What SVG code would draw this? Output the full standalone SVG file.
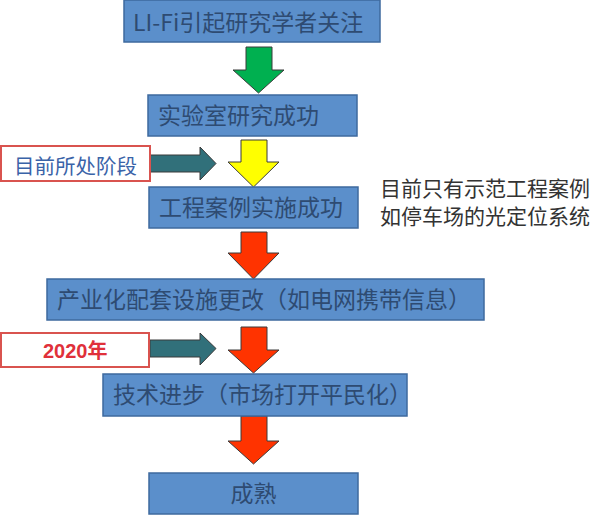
<svg xmlns="http://www.w3.org/2000/svg" width="601" height="516" viewBox="0 0 601 516">
<style>
.box{fill:#5B8FCB;stroke:#3E6A9E;stroke-width:1.5}
.bt{font-family:"Noto Sans CJK SC","Liberation Sans",sans-serif;font-size:23px;fill:#2E4B72}
.lab{fill:#FFFFFF;stroke:#D9534F;stroke-width:2}
.arr{stroke:#3A3A3A;stroke-width:1}
.note{font-family:"Liberation Serif","Noto Sans CJK SC",serif;font-size:21px;fill:#333333}
</style>
<rect width="601" height="516" fill="#FFFFFF"/>
<g id="connectors">
<polygon class="arr" fill="#00B050" points="246,47 272,47 272,70 284,70 258.5,93 233,70 246,70"/>
<polygon class="arr" fill="#FFFF00" points="241,140 267,140 267,162 279,162 253.5,187 228,162 241,162"/>
<polygon class="arr" fill="#FF3300" points="241,232 267,232 267,253 279,253 253.5,279 228,253 241,253"/>
<polygon class="arr" fill="#FF3300" points="241,327 267,327 267,350 279,350 253.5,373 228,350 241,350"/>
<polygon class="arr" fill="#FF3300" points="241,416 267,416 267,441 279,441 253.5,464 228,441 241,441"/>
<polygon class="arr" fill="#31707A" points="150,155 200,155 200,147 216,163.5 200,180 200,172 150,172"/>
<polygon class="arr" fill="#31707A" points="150,340 200,340 200,333 216,348.5 200,365 200,357 150,357"/>
</g>
<g id="n1"><rect class="box" x="124" y="0" width="256" height="42"/><text class="bt" x="133" y="31">LI-Fi引起研究学者关注</text></g>
<g id="n2"><rect class="box" x="148" y="95" width="209" height="41"/><text class="bt" x="158" y="124">实验室研究成功</text></g>
<g id="n3"><rect class="box" x="149" y="187" width="209" height="41"/><text class="bt" x="159" y="216">工程案例实施成功</text></g>
<g id="n4"><rect class="box" x="47" y="279" width="437" height="41"/><text class="bt" x="57" y="308">产业化配套设施更改（如电网携带信息）</text></g>
<g id="n5"><rect class="box" x="103" y="374" width="304" height="42"/><text class="bt" x="113" y="403">技术进步（市场打开平民化）</text></g>
<g id="n6"><rect class="box" x="149" y="473" width="209" height="41"/><text class="bt" x="253.5" y="502" text-anchor="middle">成熟</text></g>
<g id="label1"><rect class="lab" x="1" y="146" width="149" height="35"/><text x="14" y="174" font-family="Noto Sans CJK SC,sans-serif" font-size="20.5" fill="#3A63A8">目前所处阶段</text></g>
<g id="label2"><rect class="lab" x="1" y="333" width="148" height="34"/><text x="43" y="358" font-family="Liberation Sans,Noto Sans CJK SC,sans-serif" font-size="20" font-weight="bold" fill="#E0303A">2020年</text></g>
<g id="note"><text class="note" x="380" y="196">目前只有示范工程案例</text><text class="note" x="380" y="224">如停车场的光定位系统</text></g>
</svg>
